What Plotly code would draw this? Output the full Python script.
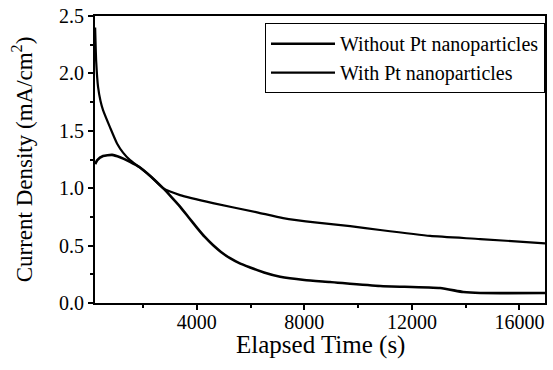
import plotly.graph_objects as go

# Data
t_with = [220, 260, 330, 420, 514, 774, 1034, 1258, 1518, 1890, 2300, 2746, 3377, 4600,
          6240, 7211, 8476, 9704, 10820, 12680, 14540, 16950]
j_with = [2.40, 2.10, 1.88, 1.76, 1.68, 1.53, 1.39, 1.31, 1.245, 1.18, 1.10, 1.00, 0.94, 0.87,
          0.79, 0.74, 0.70, 0.67, 0.636, 0.584, 0.557, 0.52]

t_without = [220, 300, 514, 850, 1146, 1518, 1890, 2300, 2746, 3050, 3377, 3700, 4010, 4300,
             4600, 4900, 5237, 5600, 5983, 6500, 7100, 8000, 8956, 10820, 13050, 13910, 14540, 16950]
j_without = [1.21, 1.245, 1.28, 1.29, 1.27, 1.23, 1.18, 1.10, 1.00, 0.925, 0.84, 0.745, 0.655, 0.575,
             0.505, 0.445, 0.39, 0.345, 0.31, 0.265, 0.228, 0.20, 0.183, 0.148, 0.13, 0.096, 0.087, 0.087]

series_names = ["Without Pt nanoparticles", "With Pt nanoparticles"]
x_ticks = [4000, 8000, 12000, 16000]
y_ticks = [0.0, 0.5, 1.0, 1.5, 2.0, 2.5]
x_title = "Elapsed Time (s)"
y_title = "Current Density (mA/cm<sup>2</sup>)"

FONT = "Times New Roman, Liberation Serif, DejaVu Serif, serif"

fig = go.Figure()
fig.add_trace(go.Scatter(x=t_without, y=j_without, mode="lines", name=series_names[0],
                         line=dict(color="black", width=2.6, shape="spline", smoothing=0.5)))
fig.add_trace(go.Scatter(x=t_with, y=j_with, mode="lines", name=series_names[1],
                         line=dict(color="black", width=2.2, shape="spline", smoothing=0.5)))

axis_common = dict(showline=True, linecolor="black", linewidth=2, mirror=True,
                   ticks="outside", tickcolor="black", tickwidth=1.5, ticklen=5,
                   showgrid=False, zeroline=False, automargin=False,
                   tickfont=dict(family=FONT, size=20, color="black"))

fig.update_xaxes(range=[215, 16950], tickvals=x_ticks, ticktext=[str(v) for v in x_ticks],
                 minor=dict(tickvals=[2000, 6000, 10000, 14000], ticks="outside", ticklen=3,
                            tickcolor="black", tickwidth=1.5),
                 ticklabelstandoff=-5,
                 **axis_common)
fig.update_yaxes(range=[0, 2.5], tickvals=y_ticks, ticktext=[f"{v:.1f}" for v in y_ticks],
                 minor=dict(tickvals=[0.25, 0.75, 1.25, 1.75, 2.25], ticks="outside", ticklen=3,
                            tickcolor="black", tickwidth=1.5),
                 title=dict(text=y_title, font=dict(family=FONT, size=23, color="black"), standoff=20),
                 **axis_common)

fig.add_annotation(text=x_title, xref="paper", yref="paper", x=0.5, y=-0.146,
                   xanchor="center", yanchor="middle", showarrow=False,
                   font=dict(family=FONT, size=25, color="black"))

fig.update_layout(
    width=553, height=370,
    margin=dict(l=95, r=8, t=16, b=67),
    paper_bgcolor="white", plot_bgcolor="white",
    font=dict(family=FONT, color="black"),
    showlegend=True,
    legend=dict(x=1.0, xanchor="right", y=0.975, yanchor="top",
                bordercolor="black", borderwidth=1, bgcolor="white",
                font=dict(family=FONT, size=20, color="black"),
                itemwidth=64, tracegroupgap=0),
)

fig.write_html("out.html", config={"displayModeBar": False},
               post_script="document.body.style.margin='0';document.body.style.padding='0';")
